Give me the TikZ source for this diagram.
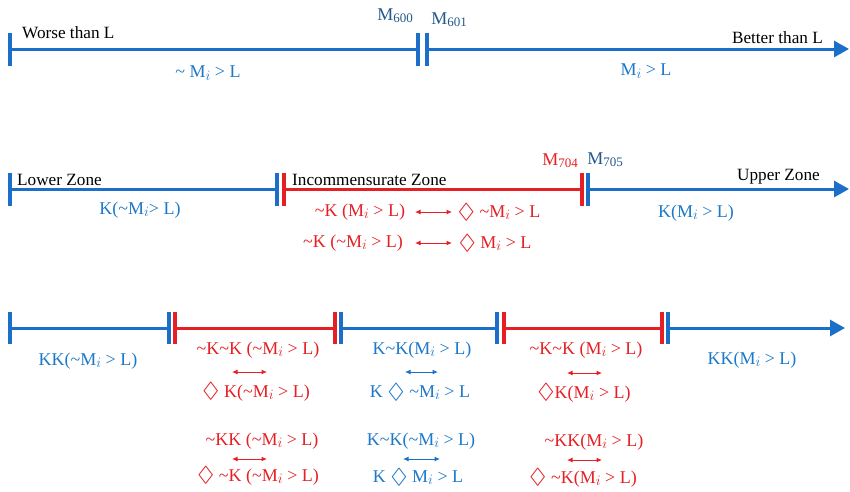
\documentclass[tikz,border=0pt]{standalone}
\usepackage{fontspec}
\setmainfont{Liberation Serif}
\usepackage{amssymb}
\usepackage{graphicx}
\usetikzlibrary{arrows.meta,calc}
\definecolor{lblue}{RGB}{27,111,200}
\definecolor{tblue}{RGB}{28,120,200}
\definecolor{dblue}{RGB}{36,88,140}
\definecolor{lred}{RGB}{229,31,35}
\newcommand\sbs[1]{\raisebox{-0.28ex}{\fontsize{13}{13}\selectfont #1}}
\newcommand\Mi{M\raisebox{-0.3ex}{\fontsize{15}{15}\selectfont$i$}}
\newcommand\tl{\char"007E}
\newcommand\dia{\raisebox{-0.1ex}{\scalebox{1.45}[1.2]{$\Diamond$}}}
\newcommand\tickat[3]{\draw[#1] ($(#2)+(0,-#3)$) -- ($(#2)+(0,#3)$);}
\begin{document}
\begin{tikzpicture}[x=1pt,y=-1pt,
  bl/.style={draw=lblue,line width=3pt},
  rl/.style={draw=lred,line width=3pt},
  btick/.style={draw=lblue,line width=4pt},
  rtick/.style={draw=lred,line width=4pt},
  bigarrow/.style={-{Triangle[length=15pt,width=16pt]}},
  txt/.style={font=\fontsize{18}{20}\selectfont,inner sep=0pt},
  blk/.style={font=\fontsize{17.2}{20}\selectfont,inner sep=0pt,text=black},
  bt/.style={txt,text=tblue},
  rt/.style={txt,text=lred},
  mt/.style={txt,text=dblue},
  rmt/.style={txt,text=lred},
  rdbl/.style={draw=lred,line width=1pt,{Latex[length=5.5pt,width=5pt]}-{Latex[length=5.5pt,width=5pt]}},
  bdbl/.style={draw=lblue,line width=1pt,{Latex[length=5.5pt,width=5pt]}-{Latex[length=5.5pt,width=5pt]}}
  ]
\useasboundingbox (0,0) rectangle (850,491);
% ---------- Row 1 ----------
\coordinate (a0) at (10,49);
\coordinate (a1) at (418,49);
\coordinate (a2) at (427,49);
\coordinate (a3) at (849,49);
\draw[bl] (a0) -- (a1);
\draw[bl,bigarrow] (a2) -- (a3);
\tickat{btick}{a0}{16.5}
\tickat{btick}{a1}{16.5}
\tickat{btick}{a2}{16.5}
\node[blk,anchor=base west] (worse) at (22,38) {Worse than L};
\node[blk,anchor=base east] (better) at (823,43) {Better than L};
\node[mt] (m600) at (395,16) {M\sbs{600}};
\node[mt] (m601) at (449,20) {M\sbs{601}};
\node[bt] (r1a) at (208,73) {\tl\ \Mi\ > L};
\node[bt] (r1b) at (646,71) {\Mi\ > L};
% ---------- Row 2 ----------
\coordinate (b0) at (10,189);
\coordinate (b1) at (277,189);
\coordinate (b2) at (284,189);
\coordinate (b3) at (582,189);
\coordinate (b4) at (588,189);
\coordinate (b5) at (849,189);
\draw[bl] (b0) -- (b1);
\draw[rl] (b2) -- (b3);
\draw[bl,bigarrow] (b4) -- (b5);
\tickat{btick}{b0}{16.5}
\tickat{btick}{b1}{16.5}
\tickat{rtick}{b2}{16.5}
\tickat{rtick}{b3}{16.5}
\tickat{btick}{b4}{16.5}
\node[blk,anchor=base west] (lower) at (17,185) {Lower Zone};
\node[blk,anchor=base west] (incomm) at (292,185) {Incommensurate Zone};
\node[blk,anchor=base east] (upper) at (820,180) {Upper Zone};
\node[rmt] (m704) at (560,161) {M\sbs{704}};
\node[mt] (m705) at (605,160) {M\sbs{705}};
\node[bt] (r2a) at (140,210) {K(\tl\Mi> L)};
\node[bt] (r2b) at (696,213) {K(\Mi\ > L)};
\node[rt] (r2c) at (360,212) {\tl K (\Mi\ > L)};
\node[rt] (r2d) at (499,212) {\dia\ \tl\Mi\ > L};
\node[rt] (r2e) at (353,243) {\tl K (\tl\Mi\ > L)};
\node[rt] (r2f) at (495,243) {\dia\ \Mi\ > L};
\coordinate (ar1l) at (415,212);
\coordinate (ar1r) at (452,212);
\coordinate (ar2l) at (415,243);
\coordinate (ar2r) at (452,243);
\draw[rdbl] (ar1l) -- (ar1r);
\draw[rdbl] (ar2l) -- (ar2r);
% ---------- Row 3 ----------
\coordinate (c0) at (10,328);
\coordinate (c1) at (169,328);
\coordinate (c2) at (175,328);
\coordinate (c3) at (335,328);
\coordinate (c4) at (341,328);
\coordinate (c5) at (497,328);
\coordinate (c6) at (504,328);
\coordinate (c7) at (662,328);
\coordinate (c8) at (668,328);
\coordinate (c9) at (845,328);
\draw[bl] (c0) -- (c1);
\draw[rl] (c2) -- (c3);
\draw[bl] (c4) -- (c5);
\draw[rl] (c6) -- (c7);
\draw[bl,bigarrow] (c8) -- (c9);
\tickat{btick}{c0}{16}
\tickat{btick}{c1}{16}
\tickat{rtick}{c2}{16}
\tickat{rtick}{c3}{16}
\tickat{btick}{c4}{16}
\tickat{btick}{c5}{16}
\tickat{rtick}{c6}{16}
\tickat{rtick}{c7}{16}
\tickat{btick}{c8}{16}
\node[bt] (r3a) at (88,361) {KK(\tl\Mi\ > L)};
\node[bt] (r3b) at (752,360) {KK(\Mi\ > L)};
% column 1
\node[rt] (p1) at (258,350) {\tl K\tl K (\tl\Mi\ > L)};
\node[rt] (p2) at (256,392) {\dia\ K(\tl\Mi\ > L)};
\node[rt] (p3) at (262,441) {\tl KK (\tl\Mi\ > L)};
\node[rt] (p4) at (258,476) {\dia\ \tl K (\tl\Mi\ > L)};
\coordinate (pa1) at (232,372); \coordinate (pa2) at (267,372);
\coordinate (pa3) at (232,459); \coordinate (pa4) at (267,459);
\draw[rdbl] (pa1) -- (pa2);
\draw[rdbl] (pa3) -- (pa4);
% column 2
\node[bt] (q1) at (422,350) {K\tl K(\Mi\ > L)};
\node[bt] (q2) at (420,392) {K \dia\ \tl\Mi\ > L};
\node[bt] (q3) at (421,441) {K\tl K(\tl\Mi\ > L)};
\node[bt] (q4) at (418,477) {K \dia\ \Mi\ > L};
\coordinate (qa1) at (405,372); \coordinate (qa2) at (438,372);
\coordinate (qa3) at (403,459); \coordinate (qa4) at (440,459);
\draw[bdbl] (qa1) -- (qa2);
\draw[bdbl] (qa3) -- (qa4);
% column 3
\node[rt] (s1) at (586,350) {\tl K\tl K (\Mi\ > L)};
\node[rt] (s2) at (584,393) {\dia K(\Mi\ > L)};
\node[rt] (s3) at (594,442) {\tl KK(\Mi\ > L)};
\node[rt] (s4) at (583,478) {\dia\ \tl K(\Mi\ > L)};
\coordinate (sa1) at (567,373); \coordinate (sa2) at (602,373);
\coordinate (sa3) at (567,460); \coordinate (sa4) at (602,460);
\draw[rdbl] (sa1) -- (sa2);
\draw[rdbl] (sa3) -- (sa4);
\end{tikzpicture}
\end{document}
